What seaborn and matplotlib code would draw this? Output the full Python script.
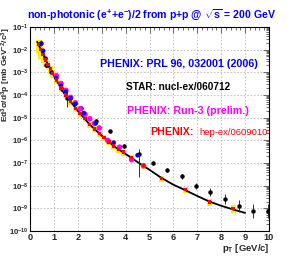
import numpy as np
import pandas as pd
import matplotlib
matplotlib.use("Agg")
import matplotlib.pyplot as plt
import matplotlib.ticker as mticker
import seaborn as sns

# FONLL-like curve
curve_pt = [0.3, 0.5, 0.7, 1.0, 1.4, 2.0, 2.5, 3.0, 3.5, 4.0, 4.5, 5.0, 5.5,
            6.0, 6.5, 7.0, 7.5, 8.0, 8.5, 9.0]
curve_y = [2.2e-2, 7.9e-3, 2.8e-3, 7.1e-4, 1.3e-4, 2.0e-5, 5.0e-6, 1.6e-6,
           5.6e-7, 2.5e-7, 1.1e-7, 5.0e-8, 2.2e-8, 1.1e-8, 6.3e-9, 3.5e-9,
           2.0e-9, 1.3e-9, 8.9e-10, 6.3e-10]

# PHENIX hep-ex/0609010 (red, yellow sys boxes)
red_pt = [0.35, 0.45, 0.55, 0.65, 0.75, 0.85, 0.95, 1.1, 1.3, 1.5, 1.7, 1.9,
          2.1, 2.3, 2.5, 2.7, 2.9, 3.1, 3.3, 3.5, 3.7, 3.9, 4.25, 4.75, 5.5,
          6.5, 7.5, 8.5]
red_y = [1.7e-2, 1.0e-2, 6.0e-3, 3.5e-3, 2.2e-3, 1.4e-3, 8.9e-4, 4.5e-4,
         2.0e-4, 1.0e-4, 5.0e-5, 2.6e-5, 1.5e-5, 8.9e-6, 5.0e-6, 3.2e-6,
         2.0e-6, 1.3e-6, 8.5e-7, 5.6e-7, 4.0e-7, 3.0e-7, 1.7e-7, 7.6e-8,
         2.1e-8, 6.8e-9, 1.9e-9, 1.0e-9]
red_sys = [0.6, 0.6, 0.55, 0.5, 0.45, 0.4, 0.35, 0.3, 0.3, 0.3, 0.3, 0.3,
           0.3, 0.3, 0.3, 0.3, 0.3, 0.3, 0.3, 0.3, 0.3, 0.3, 0.3, 0.3, 0.3,
           0.3, 0.35, 0.35]

# PHENIX PRL 96, 032001 (blue)
blue_pt = [0.45, 0.55, 0.65, 0.75, 0.9, 1.1, 1.3, 1.5, 1.7, 1.9, 2.25, 2.75,
           3.5, 4.5]
blue_y = [1.8e-2, 8.9e-3, 4.0e-3, 2.0e-3, 1.0e-3, 5.6e-4, 2.5e-4, 1.4e-4,
          7.1e-5, 4.0e-5, 1.6e-5, 5.6e-6, 7.9e-7, 2.2e-7]

# PHENIX Run-3 prelim (magenta)
mag_pt = [1.1, 1.3, 1.5, 1.7, 1.9, 2.1, 2.3, 2.5, 2.7, 2.9, 3.25, 3.75,
          4.25, 4.75]
mag_y = [7.1e-4, 3.2e-4, 1.6e-4, 7.9e-5, 4.5e-5, 2.5e-5, 1.4e-5, 8.9e-6,
         5.6e-6, 3.5e-6, 1.0e-6, 5.0e-7, 1.4e-7, 7.6e-8]

# STAR nucl-ex/0607012 (black)
star_pt = [0.45, 0.65, 1.35, 1.55, 2.15, 2.75, 3.35, 3.95, 4.55, 5.15, 5.75,
           6.35, 6.95, 7.55, 8.15, 8.75, 9.35, 9.95]
star_y = [2.0e-2, 2.2e-3, 1.8e-4, 7.1e-5, 2.8e-5, 7.4e-6, 2.5e-6, 5.9e-7,
          2.5e-7, 1.0e-7, 5.1e-8, 2.6e-8, 1.0e-8, 5.2e-9, 2.5e-9, 1.3e-9,
          7.6e-10, 7.6e-10]
star_lo = [0.25, 0.2, 0.2, 0.6, 0.18, 0.18, 0.18, 0.2, 0.9, 0.2, 0.2, 0.22,
           0.26, 0.33, 0.4, 0.45, 0.5, 0.5]
star_hi = [0.3, 0.22, 0.22, 0.3, 0.2, 0.2, 0.2, 0.22, 0.7, 0.22, 0.22, 0.28,
           0.35, 0.5, 0.66, 0.8, 1.0, 1.0]

sns.set_style("white")
plt.rcParams['font.family'] = ['Liberation Sans', 'DejaVu Sans']
plt.rcParams['font.weight'] = 'bold'
plt.rcParams['mathtext.fontset'] = 'custom'
plt.rcParams['mathtext.rm'] = 'Liberation Sans:bold'
plt.rcParams['mathtext.bf'] = 'Liberation Sans:bold'
plt.rcParams['mathtext.it'] = 'Liberation Sans:bold'
plt.rcParams['mathtext.default'] = 'bf'

fig = plt.figure(figsize=(3.01, 2.59), dpi=100)
ax = fig.add_axes([0.0997, 0.108, 0.794, 0.788])

# yellow systematic boxes
ry = np.array(red_y)
rs = np.array(red_sys)
ax.bar(red_pt, ry * (1 + rs) - ry * (1 - rs), bottom=ry * (1 - rs),
       width=0.2, color='#ffee00', edgecolor='none', zorder=2)

curve = pd.DataFrame({'pt': curve_pt, 'y': curve_y})
sns.lineplot(data=curve, x='pt', y='y', color='black', lw=1.3, ax=ax, zorder=4)

sy = np.array(star_y)
ax.errorbar(star_pt, star_y,
            yerr=[sy * np.array(star_lo), sy * np.array(star_hi)],
            fmt='o', ms=2.2, color='black', ecolor='#333333', elinewidth=0.7,
            capsize=0, zorder=5)

mag = pd.DataFrame({'pt': mag_pt, 'y': mag_y})
sns.scatterplot(data=mag, x='pt', y='y', color='#ff00ff', s=16, marker='o',
                edgecolor='none', ax=ax, zorder=6)
blue = pd.DataFrame({'pt': blue_pt, 'y': blue_y})
sns.scatterplot(data=blue, x='pt', y='y', color='#0000ff', s=11, marker='o',
                edgecolor='none', ax=ax, zorder=7)
red = pd.DataFrame({'pt': red_pt, 'y': red_y})
sns.scatterplot(data=red, x='pt', y='y', color='#ff0000', s=6, marker='s',
                edgecolor='none', ax=ax, zorder=8)

ax.set_yscale('log')
ax.set_xlim(0, 10)
ax.set_ylim(1e-10, 1e-1)
ax.xaxis.set_major_locator(mticker.MultipleLocator(1))
ax.xaxis.set_minor_locator(mticker.MultipleLocator(0.2))
ax.yaxis.set_major_locator(mticker.LogLocator(base=10, numticks=20))
ax.yaxis.set_minor_locator(mticker.LogLocator(base=10, subs=np.arange(2, 10), numticks=20))
ax.yaxis.set_minor_formatter(mticker.NullFormatter())
ax.yaxis.set_major_formatter(mticker.LogFormatterMathtext())
ax.tick_params(which='both', direction='in', top=True, right=True,
               width=0.6, color='#555555')
ax.tick_params(axis='x', labelsize=6.6, pad=1.5)
ax.tick_params(axis='y', labelsize=5.6, pad=0.8)
ax.tick_params(which='major', length=4.5)
ax.tick_params(which='minor', length=2.2)
ax.grid(which='major', ls=(0, (2, 2)), color='#bbbbbb', lw=0.6)
for sp in ax.spines.values():
    sp.set_linewidth(0.8)
    sp.set_color('black')

ax.set_xlabel('')
ax.set_ylabel('')
ax.xaxis.label.set_visible(False)
ax.yaxis.label.set_visible(False)
fig.text(0.897, 0.066, r'p$_{T}$ [GeV/c]', ha='right', va='top', fontsize=6.8)
fig.text(0.0, 0.896, r'Ed$^{3}$σ/d$^{3}$p [mb GeV$^{-2}$/c$^{3}$]',
         rotation=90, ha='left', va='top', fontsize=6.0)

fig.text(0.503, 0.942, r'non-photonic (e$^{+}$+e$^{-}$)/2 from p+p @ $\sqrt{s}$ = 200 GeV',
         ha='center', va='center', fontsize=7.6, color='#0000ff')
fig.text(0.333, 0.753, 'PHENIX: PRL 96, 032001 (2006)', ha='left', va='center',
         fontsize=7.7, color='#0000ff')
fig.text(0.419, 0.664, 'STAR: nucl-ex/060712', ha='left', va='center',
         fontsize=7.2, color='black')
fig.text(0.422, 0.571, 'PHENIX: Run-3 (prelim.)', ha='left', va='center',
         fontsize=7.7, color='#ff00ff')
fig.text(0.498, 0.490, 'PHENIX:', ha='left', va='center',
         fontsize=7.7, color='#ff0000')
fig.text(0.664, 0.490, 'hep-ex/0609010', ha='left', va='center',
         fontsize=6.8, color='#ff0000', fontweight='normal')

fig.savefig('out.png', dpi=100)
